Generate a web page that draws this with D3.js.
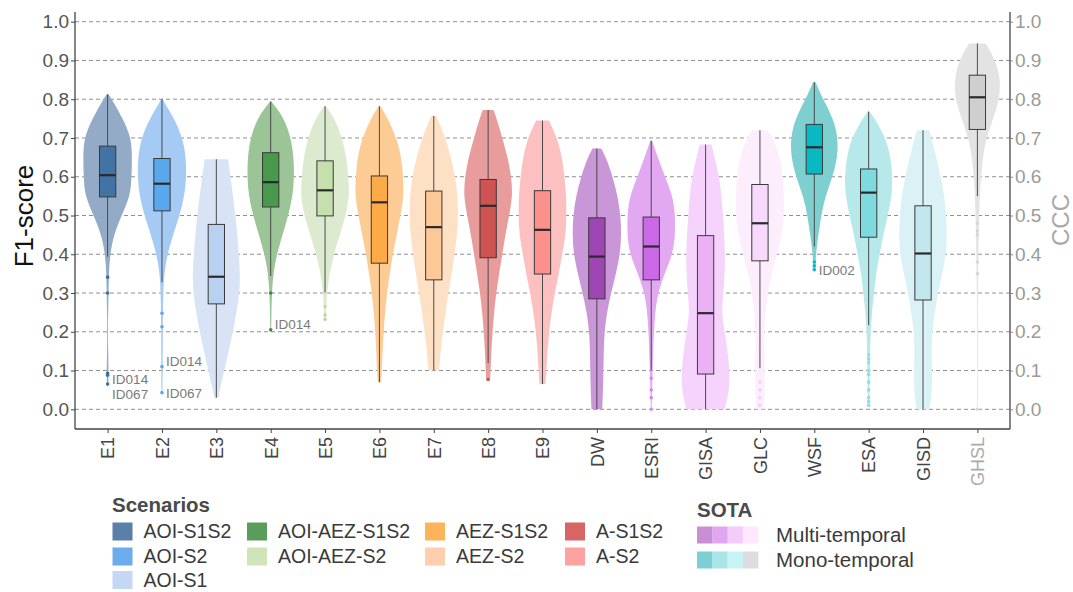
<!DOCTYPE html>
<html>
<head>
<meta charset="utf-8">
<script src="https://cdn.jsdelivr.net/npm/d3@7"></script>
<style>
  html, body { margin: 0; padding: 0; background: #fff; }
  svg { display: block; font-family: "Liberation Sans", Arial, sans-serif; }
</style>
</head>
<body>
<svg id="chart" width="1073" height="592"></svg>
<script>
// ---- data ---------------------------------------------------------------
const categories = ["E1","E2","E3","E4","E5","E6","E7","E8","E9",
                    "DW","ESRI","GISA","GLC","WSF","ESA","GISD","GHSL"];

// box statistics (whisker low, Q1, median, Q3, whisker high)
const whiskerLow  = [0.394,0.328,0.030,0.344,0.301,0.070,0.101,0.119,0.065,0.000,0.100,0.000,0.106,0.420,0.217,0.000,0.550];
const quartile1   = [0.548,0.512,0.272,0.522,0.499,0.377,0.334,0.391,0.349,0.285,0.334,0.091,0.383,0.607,0.444,0.282,0.722];
const medians     = [0.604,0.582,0.342,0.586,0.565,0.534,0.470,0.525,0.463,0.394,0.420,0.248,0.480,0.676,0.559,0.402,0.805];
const quartile3   = [0.679,0.647,0.477,0.662,0.641,0.602,0.563,0.593,0.564,0.494,0.496,0.448,0.580,0.735,0.620,0.525,0.862];
const whiskerHigh = [0.813,0.801,0.645,0.794,0.782,0.782,0.757,0.772,0.745,0.673,0.693,0.683,0.720,0.844,0.768,0.720,0.944];

// outlying scores
const outliers = [
  [0.341,0.300,0.093,0.088,0.065],
  [0.248,0.213,0.110,0.043],
  [],
  [0.300,0.205],
  [0.265,0.243,0.232],
  [], [],
  [0.077],
  [], [],
  [0.080,0.050,0.030,0.000],
  [],
  [0.070,0.050,0.030,0.010],
  [0.380,0.370,0.360],
  [0.140,0.130,0.120,0.100,0.090,0.070,0.050,0.030,0.020,0.010],
  [],
  [0.480,0.460,0.450,0.380,0.350,0.000]
];

// labelled sites: [category, score, id]
const siteLabels = [
  ["E1", 0.093, "ID014"], ["E1", 0.065, "ID067"],
  ["E2", 0.110, "ID014"], ["E2", 0.043, "ID067"],
  ["E4", 0.205, "ID014"], ["WSF", 0.360, "ID002"]
];

// density profiles: [score, relative half-width]
const densityE1 = [[0.813,0.03],[0.8,0.17],[0.75,0.62],[0.7,0.97],[0.65,1.0],[0.6,0.98],[0.55,0.93],[0.5,0.57],[0.45,0.25],[0.4,0.1],[0.35,0.05],[0.3,0.04],[0.25,0.02],[0.2,0.015],[0.15,0.02],[0.1,0.04],[0.065,0.03]];
const densityE2 = [[0.801,0.03],[0.78,0.2],[0.75,0.5],[0.7,0.85],[0.65,0.98],[0.6,1.0],[0.55,0.92],[0.5,0.72],[0.45,0.45],[0.4,0.22],[0.35,0.09],[0.3,0.05],[0.2,0.03],[0.1,0.03],[0.043,0.02]];
const densityE3 = [[0.645,0.48],[0.6,0.58],[0.55,0.68],[0.5,0.78],[0.45,0.86],[0.4,0.92],[0.35,0.97],[0.3,0.95],[0.25,0.82],[0.2,0.68],[0.15,0.5],[0.1,0.33],[0.05,0.14],[0.03,0.08]];
const densityE4 = [[0.794,0.03],[0.78,0.2],[0.75,0.55],[0.7,0.83],[0.65,0.94],[0.6,0.96],[0.55,0.9],[0.5,0.72],[0.45,0.48],[0.4,0.25],[0.35,0.1],[0.3,0.05],[0.25,0.03],[0.205,0.02]];
const densityE5 = [[0.782,0.03],[0.75,0.4],[0.7,0.7],[0.65,0.88],[0.6,0.95],[0.55,1.0],[0.5,0.85],[0.45,0.6],[0.4,0.36],[0.35,0.18],[0.3,0.08],[0.25,0.04],[0.232,0.03]];
const densityE6 = [[0.782,0.04],[0.75,0.35],[0.7,0.7],[0.65,0.9],[0.6,0.97],[0.55,1.0],[0.5,0.86],[0.45,0.7],[0.4,0.55],[0.35,0.42],[0.3,0.31],[0.25,0.23],[0.2,0.17],[0.15,0.13],[0.1,0.1],[0.07,0.06]];
const densityE7 = [[0.757,0.1],[0.7,0.48],[0.65,0.7],[0.6,0.88],[0.55,0.97],[0.5,1.0],[0.45,0.95],[0.4,0.85],[0.35,0.73],[0.3,0.6],[0.25,0.48],[0.2,0.37],[0.15,0.28],[0.101,0.22]];
const densityE8 = [[0.772,0.22],[0.75,0.35],[0.7,0.58],[0.65,0.8],[0.6,0.95],[0.55,1.0],[0.5,0.86],[0.45,0.7],[0.4,0.58],[0.35,0.45],[0.3,0.33],[0.25,0.24],[0.2,0.18],[0.15,0.13],[0.1,0.1],[0.077,0.08]];
const densityE9 = [[0.745,0.26],[0.7,0.6],[0.65,0.8],[0.6,0.9],[0.55,0.97],[0.5,0.98],[0.45,0.95],[0.4,0.8],[0.35,0.67],[0.3,0.5],[0.25,0.37],[0.2,0.27],[0.15,0.2],[0.1,0.16],[0.065,0.12]];
const densityDW = [[0.673,0.18],[0.65,0.37],[0.6,0.65],[0.55,0.85],[0.5,0.97],[0.45,1.0],[0.4,0.95],[0.35,0.78],[0.3,0.58],[0.25,0.41],[0.2,0.31],[0.15,0.28],[0.1,0.27],[0.05,0.25],[0.0,0.22]];
const densityESRI = [[0.693,0.04],[0.65,0.27],[0.6,0.56],[0.55,0.88],[0.5,0.98],[0.45,0.98],[0.4,0.88],[0.35,0.54],[0.3,0.27],[0.25,0.16],[0.2,0.11],[0.15,0.08],[0.1,0.06],[0.05,0.03],[0.0,0.02]];
const densityGISA = [[0.683,0.24],[0.65,0.37],[0.6,0.56],[0.55,0.65],[0.5,0.71],[0.45,0.76],[0.4,0.8],[0.35,0.78],[0.3,0.73],[0.25,0.65],[0.2,0.78],[0.15,0.9],[0.1,0.98],[0.05,0.98],[0.0,0.78]];
const densityGLC = [[0.72,0.31],[0.7,0.54],[0.65,0.82],[0.6,0.95],[0.55,0.98],[0.5,1.0],[0.45,0.88],[0.4,0.71],[0.35,0.46],[0.3,0.33],[0.25,0.22],[0.2,0.17],[0.15,0.18],[0.1,0.2],[0.05,0.19],[0.0,0.17]];
const densityWSF = [[0.844,0.05],[0.8,0.35],[0.75,0.78],[0.7,0.97],[0.65,0.95],[0.6,0.75],[0.55,0.45],[0.5,0.28],[0.45,0.17],[0.42,0.1],[0.39,0.06],[0.36,0.04]];
const densityESA = [[0.768,0.03],[0.75,0.25],[0.7,0.7],[0.65,0.9],[0.6,0.98],[0.55,0.95],[0.5,0.78],[0.45,0.6],[0.4,0.45],[0.35,0.3],[0.3,0.22],[0.25,0.13],[0.2,0.08],[0.15,0.06],[0.1,0.05],[0.05,0.04],[0.01,0.04]];
const densityGISD = [[0.72,0.25],[0.7,0.34],[0.65,0.54],[0.6,0.73],[0.55,0.87],[0.5,0.95],[0.45,0.98],[0.4,0.95],[0.35,0.78],[0.3,0.61],[0.25,0.48],[0.2,0.37],[0.15,0.34],[0.1,0.37],[0.05,0.37],[0.0,0.27]];
const densityGHSL = [[0.944,0.34],[0.9,0.75],[0.85,0.95],[0.8,0.9],[0.75,0.65],[0.7,0.36],[0.65,0.22],[0.6,0.15],[0.55,0.1],[0.5,0.07],[0.4,0.04],[0.3,0.02],[0.2,0.015],[0.1,0.015],[0.0,0.015]];
const densities = [densityE1,densityE2,densityE3,densityE4,densityE5,densityE6,densityE7,densityE8,densityE9,
                   densityDW,densityESRI,densityGISA,densityGLC,densityWSF,densityESA,densityGISD,densityGHSL];

const yTicks = [0,0.1,0.2,0.3,0.4,0.5,0.6,0.7,0.8,0.9,1.0];

// legend entries
const scenarioNames = ["AOI-S1S2","AOI-S2","AOI-S1","AOI-AEZ-S1S2","AOI-AEZ-S2","AEZ-S1S2","AEZ-S2","A-S1S2","A-S2"];
const sotaNames = ["Multi-temporal","Mono-temporal"];

// ---- styling ------------------------------------------------------------
const violinFill = ["#93abc7","#a5cbf5","#d8e3f5","#9bc497","#dcebcf","#fdcc94","#fee0c4","#e89c9b","#fdc0c0",
                    "#c997d8","#e2a8f2","#f5d3fc","#fdeefe","#7ecfcf","#b7e8ea","#daf1f5","#e3e3e3"];
const boxFill    = ["#4173a5","#5aa7ee","#b9d1f0","#48994c","#c6e0ad","#fdab46","#fdc898","#cf5353","#fc918c",
                    "#9e46b4","#cb69e6","#ebb1f5","#f6d9fb","#08b9c4","#7fdadf","#c2e8ee","#cfcfcf"];
const pointFill  = ["#3f6f9f","#5aa7ee","#b9d1f0","#3d8d43","#bcdba2","#fdab46","#fdc898","#cf5353","#fc918c",
                    "#9e46b4","#d58bee","#ebb1f5","#f3d2f8","#08b9c4","#8fe0e4","#c2e8ee","#d6d6d6"];
const scenarioColors = ["#5b7fa8","#6cacec","#c4d8f3","#5a9d5a","#cfe4b8","#fdb35a","#fecfae","#d86466","#fca3a1"];
const sotaColors = [["#c88fd4","#e0a6f0","#f3ccfa","#fde8fd"],["#7ccfd3","#a9e4e8","#c8f3f5","#dcdde2"]];

const margin = {left: 75, right: 1010, top: 12, bottom: 429};
const svg = d3.select("#chart");

const x = d3.scalePoint().domain(categories).range([margin.left, margin.right]).padding(0.6);
const y = d3.scaleLinear().domain([0, 1]).range([409.3, 21.7]);
const step = x.step();
const halfWidth = d3.scaleLinear().domain([0, 1]).range([0, step * 0.45]);
const boxHalf = step * 0.15;

// grid
svg.append("g").selectAll("line").data(yTicks).join("line")
  .attr("x1", margin.left).attr("x2", margin.right)
  .attr("y1", d => y(d)).attr("y2", d => y(d))
  .attr("stroke", "#8f8f8f").attr("stroke-width", 1).attr("stroke-dasharray", "4,3");

// violins
const area = d3.area()
  .curve(d3.curveBasis)
  .y(d => y(d[0]));

const plot = svg.append("g");
categories.forEach((c, i) => {
  const cx = x(c);
  const g = plot.append("g");
  g.append("path")
    .datum(densities[i])
    .attr("d", area.x0(d => cx - halfWidth(d[1])).x1(d => cx + halfWidth(d[1])))
    .attr("fill", violinFill[i]);

  // outliers
  g.selectAll("circle").data(outliers[i]).join("circle")
    .attr("cx", cx).attr("cy", d => y(d)).attr("r", 1.8)
    .attr("fill", pointFill[i]);

  // whisker
  g.append("line")
    .attr("x1", cx).attr("x2", cx)
    .attr("y1", y(whiskerHigh[i])).attr("y2", y(whiskerLow[i]))
    .attr("stroke", "#4a4a4a").attr("stroke-width", 1);

  // box
  g.append("rect")
    .attr("x", cx - boxHalf).attr("width", boxHalf * 2)
    .attr("y", y(quartile3[i])).attr("height", y(quartile1[i]) - y(quartile3[i]))
    .attr("fill", boxFill[i]).attr("stroke", "#3a3a3a").attr("stroke-width", 1);

  g.append("line")
    .attr("x1", cx - boxHalf).attr("x2", cx + boxHalf)
    .attr("y1", y(medians[i])).attr("y2", y(medians[i]))
    .attr("stroke", "#2a2a2a").attr("stroke-width", 2.2);
});

// site labels
const labelNudge = [[4.5, 6], [4.5, 10], [4, -5], [4, 0.6], [4, -5.7], [4.5, 1]];
svg.append("g").selectAll("text").data(siteLabels).join("text")
  .attr("x", (d, k) => x(d[0]) + labelNudge[k][0])
  .attr("y", (d, k) => y(d[1]) + labelNudge[k][1])
  .attr("dy", "0.35em")
  .attr("font-size", 13.5).attr("fill", "#7a7a7a")
  .text(d => d[2]);

// axes frame
const frame = svg.append("g").attr("stroke", "#444").attr("stroke-width", 1.3);
frame.append("line").attr("x1", margin.left).attr("x2", margin.left).attr("y1", margin.top).attr("y2", margin.bottom);
frame.append("line").attr("x1", margin.right).attr("x2", margin.right).attr("y1", margin.top).attr("y2", margin.bottom);
frame.append("line").attr("x1", margin.left).attr("x2", margin.right).attr("y1", margin.bottom).attr("y2", margin.bottom);

// left axis
const yAxisL = svg.append("g").attr("transform", `translate(${margin.left},0)`)
  .call(d3.axisLeft(y).tickValues(yTicks).tickFormat(d3.format(".1f")).tickSize(4).tickPadding(2));
yAxisL.select(".domain").remove();
yAxisL.selectAll(".tick line").attr("stroke", "#444");
yAxisL.selectAll(".tick text").attr("font-size", 19).attr("fill", "#555").attr("font-family", "Liberation Sans, Arial, sans-serif");

// right axis
const yAxisR = svg.append("g").attr("transform", `translate(${margin.right},0)`)
  .call(d3.axisRight(y).tickValues(yTicks).tickFormat(d3.format(".1f")).tickSize(3).tickPadding(2));
yAxisR.select(".domain").remove();
yAxisR.selectAll(".tick line").attr("stroke", "#888");
yAxisR.selectAll(".tick text").attr("font-size", 19).attr("fill", "#9a9a9a").attr("font-family", "Liberation Sans, Arial, sans-serif");

// bottom axis
const xAxis = svg.append("g").attr("transform", `translate(0,${margin.bottom})`)
  .call(d3.axisBottom(x).tickSize(4).tickPadding(4));
xAxis.select(".domain").remove();
xAxis.selectAll(".tick line").attr("stroke", "#444");
xAxis.selectAll(".tick text")
  .attr("font-size", 18).attr("font-family", "Liberation Sans, Arial, sans-serif")
  .attr("fill", d => d === "GHSL" ? "#ababab" : "#444")
  .attr("transform", "rotate(-90)")
  .attr("text-anchor", "end")
  .attr("x", -8).attr("y", 0).attr("dy", "0.35em");

// axis titles
svg.append("text")
  .attr("transform", "translate(24,216) rotate(-90)")
  .attr("text-anchor", "middle").attr("dy", "0.35em").attr("font-size", 26).attr("fill", "#111")
  .text("F1-score");
svg.append("text")
  .attr("transform", "translate(1061,220) rotate(-90)")
  .attr("text-anchor", "middle").attr("dy", "0.35em").attr("font-size", 24).attr("fill", "#a8a8a8")
  .text("CCC");

// scenarios legend
const leg = svg.append("g");
leg.append("text").attr("x", 112).attr("y", 505).attr("dy", "0.35em")
  .attr("font-size", 20.5).attr("font-weight", "bold").attr("fill", "#4a4a4a").text("Scenarios");
const legCols = [112.5, 247, 425, 565];
const legRowY = [531.5, 556.5, 580];
const legIdx = [[0,0],[0,1],[0,2],[1,0],[1,1],[2,0],[2,1],[3,0],[3,1]];
scenarioNames.forEach((name, k) => {
  const [col, row] = legIdx[k];
  const gx = legCols[col], gy = legRowY[row];
  leg.append("rect").attr("x", gx).attr("y", gy - 9).attr("width", 20).attr("height", 18)
    .attr("fill", scenarioColors[k]);
  leg.append("text").attr("x", gx + 31).attr("y", gy).attr("dy", "0.35em")
    .attr("font-size", 19.5).attr("fill", "#3a3a3a").text(name);
});

// SOTA legend
leg.append("text").attr("x", 697).attr("y", 510).attr("dy", "0.35em")
  .attr("font-size", 20.5).attr("font-weight", "bold").attr("fill", "#4a4a4a").text("SOTA");
const sotaRowY = [535, 560];
sotaNames.forEach((name, r) => {
  sotaColors[r].forEach((col, j) => {
    leg.append("rect").attr("x", 697 + j * 15.3).attr("y", sotaRowY[r] - 8.5)
      .attr("width", 15.5).attr("height", 17).attr("fill", col);
  });
  leg.append("text").attr("x", 776).attr("y", sotaRowY[r]).attr("dy", "0.35em")
    .attr("font-size", 20.5).attr("fill", "#3a3a3a").text(name);
});
</script>
</body>
</html>
